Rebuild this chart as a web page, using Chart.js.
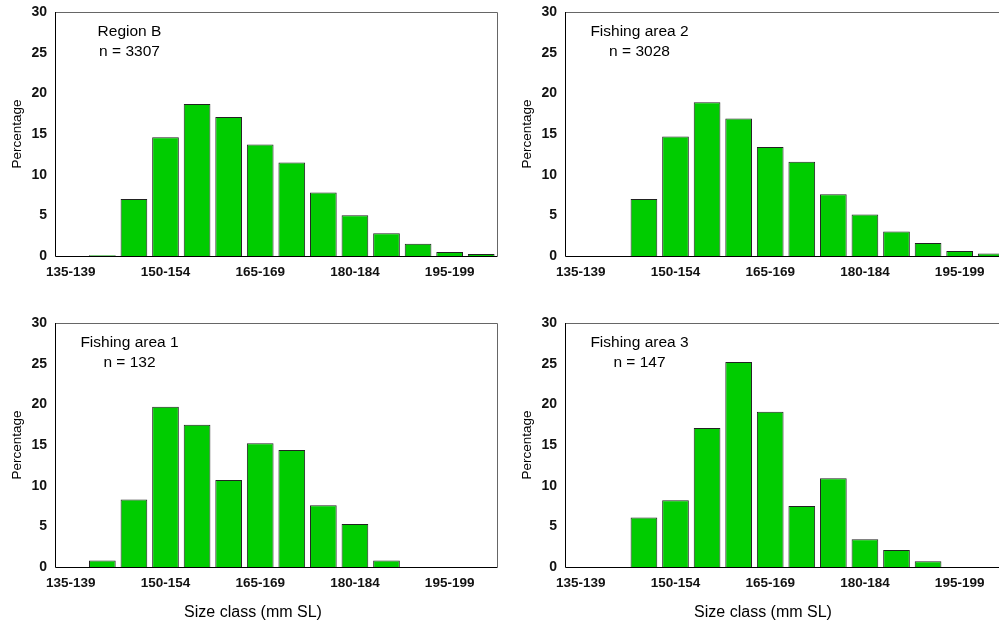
<!DOCTYPE html>
<html>
<head>
<meta charset="utf-8">
<script src="https://cdn.jsdelivr.net/npm/chart.js@4.4.1/dist/chart.umd.min.js"></script>
<style>
  html, body { margin: 0; padding: 0; background: #fff; overflow: hidden; width: 999px; height: 625px; }
  canvas { position: absolute; }
</style>
</head>
<body>
<canvas id="c1" width="500" height="290" style="left:0;top:0"></canvas>
<canvas id="c2" width="510" height="290" style="left:500px;top:0"></canvas>
<canvas id="c3" width="500" height="325" style="left:0;top:300px"></canvas>
<canvas id="c4" width="510" height="325" style="left:500px;top:300px"></canvas>
<script>
const sizeClasses = [
  "135-139", "140-144", "145-149", "150-154", "155-159", "160-164", "165-169",
  "170-174", "175-179", "180-184", "185-189", "190-194", "195-199", "200-204",
];

// percentage per size class
const regionB = [0, 0.1, 7.0, 14.6, 18.7, 17.1, 13.7, 11.5, 7.8, 5.0, 2.8, 1.5, 0.5, 0.25];
const area2 = [0, 0, 7.0, 14.7, 18.9, 16.9, 13.4, 11.6, 7.6, 5.1, 3.0, 1.6, 0.6, 0.3];
const area1 = [0, 0.8, 8.3, 19.7, 17.5, 10.7, 15.2, 14.4, 7.6, 5.3, 0.8, 0, 0, 0];
const area3 = [0, 0, 6.1, 8.2, 17.1, 25.2, 19.1, 7.5, 10.9, 3.4, 2.1, 0.7, 0, 0];

const yMax = 30;
const yStep = 5;

const font = '"Liberation Sans", Arial, sans-serif';

// frame + in-plot labels + axis titles
const panelDecor = {
  id: "panelDecor",
  afterDatasetsDraw(chart, args, opts) {
    const { ctx, chartArea: a } = chart;
    ctx.save();
    ctx.lineWidth = 1;
    ctx.strokeStyle = "#666";
    ctx.beginPath();
    ctx.moveTo(a.left, a.top + 0.5);
    ctx.lineTo(a.right + 0.5, a.top + 0.5);
    ctx.lineTo(a.right + 0.5, a.bottom);
    ctx.stroke();
    ctx.strokeStyle = "#000";
    ctx.beginPath();
    ctx.moveTo(a.left + 0.5, a.top);
    ctx.lineTo(a.left + 0.5, a.bottom + 0.5);
    ctx.lineTo(a.right + 0.5, a.bottom + 0.5);
    ctx.stroke();

    ctx.fillStyle = "#000";
    ctx.textAlign = "center";
    ctx.textBaseline = "middle";
    ctx.font = "15.5px " + font;
    opts.lines.forEach((t, i) => ctx.fillText(t, a.left + 74.5, a.top + 20 + i * 19.4));

    ctx.font = "13.5px " + font;
    ctx.save();
    ctx.translate(a.left - 38, (a.top + a.bottom) / 2);
    ctx.rotate(-Math.PI / 2);
    ctx.fillText("Percentage", 0, 0);
    ctx.restore();

    if (opts.xTitle) {
      ctx.font = "16px " + font;
      ctx.fillText(opts.xTitle, a.left + 198, a.bottom + 46);
    }
    ctx.restore();
  },
};

function makePanel(id, values, lines, yWidth, top, xHeight, xTitle) {
  return new Chart(document.getElementById(id), {
    type: "bar",
    data: {
      labels: sizeClasses,
      datasets: [
        {
          data: values,
          backgroundColor: "#00cc00",
          borderColor: "#222",
          borderWidth: 1,
          categoryPercentage: 0.845,
          barPercentage: 1,
        },
      ],
    },
    options: {
      responsive: false,
      animation: false,
      layout: { padding: { top: top, right: 3, left: 0, bottom: 0 } },
      plugins: {
        legend: { display: false },
        tooltip: { enabled: false },
        panelDecor: { lines, xTitle },
      },
      scales: {
        x: {
          grid: { display: false, drawTicks: false },
          border: { display: false },
          ticks: {
            autoSkip: false,
            maxRotation: 0,
            padding: 8,
            color: "#111",
            font: { family: font, size: 13.5, weight: "bold" },
            callback: (v, i) => (i % 3 === 0 ? sizeClasses[i] : ""),
          },
          afterFit: (s) => {
            s.height = xHeight;
            s.paddingLeft = 0;
            s.paddingRight = 0;
          },
        },
        y: {
          min: 0,
          max: yMax,
          grid: { display: false, drawTicks: false },
          border: { display: false },
          ticks: {
            stepSize: yStep,
            padding: 8,
            color: "#111",
            font: { family: font, size: 14, weight: "bold" },
          },
          afterFit: (s) => {
            s.width = yWidth;
            s.paddingTop = 0;
            s.paddingBottom = 0;
          },
        },
      },
    },
    plugins: [panelDecor],
  });
}

makePanel("c1", regionB, ["Region B", "n = 3307"], 55, 12, 34, null);
makePanel("c2", area2, ["Fishing area 2", "n = 3028"], 65, 12, 34, null);
makePanel("c3", area1, ["Fishing area 1", "n = 132"], 55, 23, 58, "Size class (mm SL)");
makePanel("c4", area3, ["Fishing area 3", "n = 147"], 65, 23, 58, "Size class (mm SL)");
</script>
</body>
</html>
